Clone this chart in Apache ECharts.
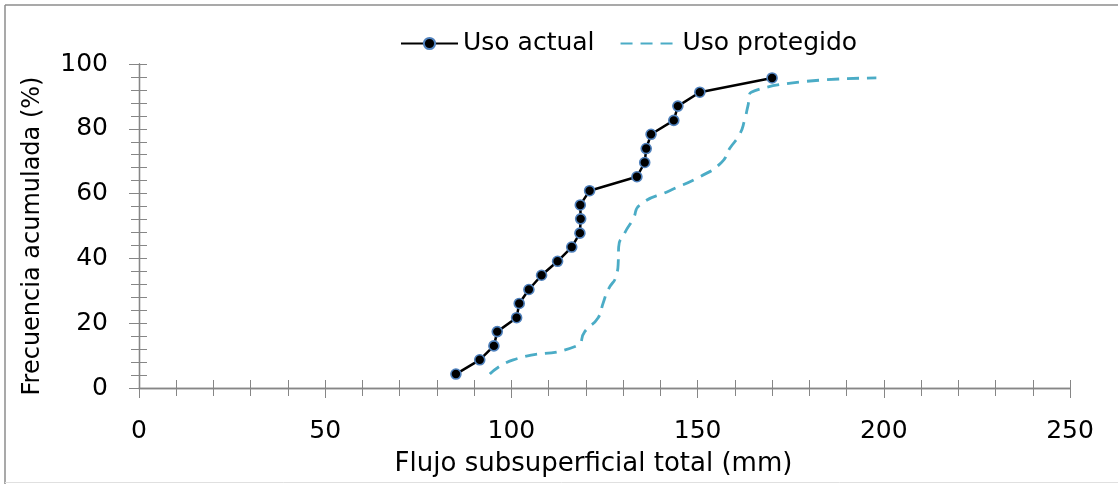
<!DOCTYPE html>
<html>
<head>
<meta charset="utf-8">
<script src="https://cdn.jsdelivr.net/npm/echarts@6/dist/echarts.min.js"></script>
<style>
  html, body { margin: 0; padding: 0; background: #fff; }
  #chart { width: 1118px; height: 484px; }
</style>
</head>
<body>
<div id="chart"></div>
<script>
// Cumulative frequency (%) shared by both series
const freqActual = [4.3, 8.7, 13.0, 17.4, 21.7, 26.1, 30.4, 34.8, 39.1, 43.5, 47.8,
                    52.2, 56.5, 60.9, 65.2, 69.6, 73.9, 78.3, 82.6, 87.0, 91.3, 95.7];
// Total subsurface flow (mm), current land use
const flowActual = [85.1, 91.5, 95.3, 96.2, 101.4, 102.1, 104.7, 108.1, 112.4, 116.2, 118.4,
                    118.6, 118.5, 121.0, 133.7, 135.8, 136.2, 137.5, 143.6, 144.7, 150.6, 170.0];
// Cumulative frequency (%) and flow (mm), protected land use
const freqProtected = [4.3, 8.7, 13.0, 17.4, 21.7, 26.1, 30.4, 34.8, 39.1, 43.5, 47.8,
                       52.2, 56.5, 60.9, 65.2, 69.6, 73.9, 78.3, 82.6, 87.0, 91.3, 95.7];
const flowProtected = [94.2, 100.5, 117.5, 119.7, 123.3, 124.6, 126.0, 128.2, 128.7, 128.8, 130.4,
                       132.7, 134.5, 142.5, 150.6, 156.4, 158.6, 161.3, 162.6, 163.5, 164.4, 198.0];

const seriesNames = ['Uso actual', 'Uso protegido'];
const xTitle = 'Flujo subsuperficial total (mm)';
const yTitle = 'Frecuencia acumulada (%)';

const FONT = '"DejaVu Sans", sans-serif';
const AXIS_GREY = '#868686';

const pairs = (xs, ys) => xs.map((x, i) => [x, ys[i]]);

const chart = echarts.init(document.getElementById('chart'), null, { renderer: 'canvas' });

const baseX = {
  type: 'value', min: 0, max: 250, gridIndex: 0, position: 'bottom',
  splitLine: { show: false },
  axisLine: { show: true, onZero: false, lineStyle: { color: AXIS_GREY, width: 1.3 } }
};
const baseY = {
  type: 'value', min: 0, max: 100, gridIndex: 0, position: 'left',
  splitLine: { show: false },
  axisLine: { show: true, onZero: false, lineStyle: { color: AXIS_GREY, width: 1.3 } }
};

chart.setOption({
  animation: false,
  backgroundColor: '#ffffff',
  textStyle: { fontFamily: FONT },
  grid: { left: 139, right: 48, top: 64, bottom: 96, containLabel: false },
  legend: {
    data: [
      { name: seriesNames[0] },
      { name: seriesNames[1], itemStyle: { color: 'rgba(0,0,0,0)', borderColor: 'rgba(0,0,0,0)', borderWidth: 0 } }
    ],
    top: 26,
    left: 395,
    itemWidth: 57,
    itemHeight: 14,
    itemGap: 25,
    textStyle: { fontSize: 25, color: '#000', fontFamily: FONT }
  },
  xAxis: [
    Object.assign({}, baseX, {
      interval: 50,
      name: xTitle,
      nameLocation: 'middle',
      nameGap: 63,
      nameTextStyle: { fontSize: 26, color: '#000', fontFamily: FONT, padding: [0, 22, 0, 0] },
      axisTick: { show: true, inside: false, length: 10, lineStyle: { color: AXIS_GREY } },
      minorTick: { show: true, splitNumber: 5, length: 8, lineStyle: { color: AXIS_GREY } },
      axisLabel: { fontSize: 25, color: '#000', margin: 31, fontFamily: FONT }
    }),
    Object.assign({}, baseX, {
      interval: 10,
      axisTick: { show: true, inside: true, length: 8, lineStyle: { color: AXIS_GREY } },
      axisLabel: { show: false }
    })
  ],
  yAxis: [
    Object.assign({}, baseY, {
      interval: 20,
      name: yTitle,
      nameLocation: 'middle',
      nameGap: 94,
      nameRotate: 90,
      nameTextStyle: { fontSize: 24, color: '#000', fontFamily: FONT, padding: [0, 20, 0, 0] },
      axisTick: { show: true, inside: false, length: 10, lineStyle: { color: AXIS_GREY } },
      minorTick: { show: true, splitNumber: 5, length: 8, lineStyle: { color: AXIS_GREY } },
      axisLabel: { fontSize: 25, color: '#000', margin: 31, fontFamily: FONT }
    }),
    Object.assign({}, baseY, {
      interval: 4,
      axisTick: { show: true, inside: true, length: 8, lineStyle: { color: AXIS_GREY } },
      axisLabel: { show: false }
    })
  ],
  series: [
    {
      name: seriesNames[0],
      type: 'line',
      xAxisIndex: 0, yAxisIndex: 0,
      data: pairs(flowActual, freqActual),
      symbol: 'circle',
      symbolSize: 10,
      lineStyle: { color: '#000000', width: 2.5 },
      itemStyle: { color: '#000000', borderColor: '#4f81bd', borderWidth: 1.6 },
      z: 3
    },
    {
      name: seriesNames[1],
      type: 'line',
      xAxisIndex: 0, yAxisIndex: 0,
      data: pairs(flowProtected, freqProtected),
      symbol: 'none',
      smooth: 0.55,
      lineStyle: { color: '#4bacc6', width: 2.8, type: [12, 8] },
      itemStyle: { color: '#4bacc6' },
      z: 2
    }
  ],
  graphic: [
    { type: 'line', shape: { x1: 5, y1: 5, x2: 1118, y2: 5 }, style: { stroke: '#8c8c8c', lineWidth: 1.5 } },
    { type: 'line', shape: { x1: 5, y1: 5, x2: 5, y2: 484 }, style: { stroke: '#8c8c8c', lineWidth: 1.5 } },
    { type: 'line', shape: { x1: 5, y1: 482.5, x2: 1118, y2: 482.5 }, style: { stroke: '#e0e0e0', lineWidth: 1 } }
  ]
});
</script>
</body>
</html>
